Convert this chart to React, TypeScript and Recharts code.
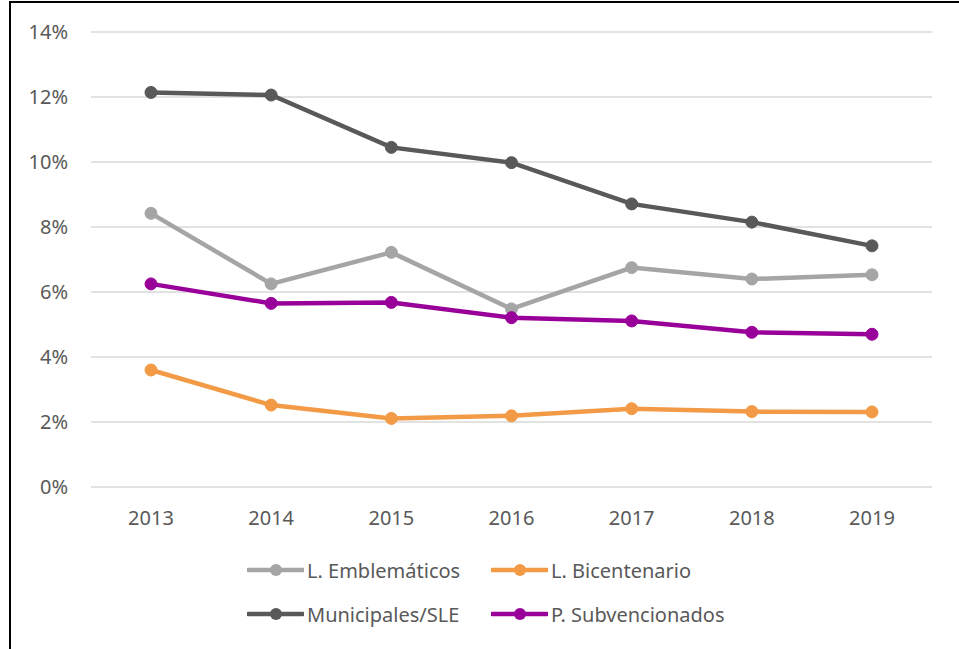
import React from "react";
import { LineChart, Line, XAxis, YAxis, CartesianGrid, Legend } from "recharts";

const years = ["2013", "2014", "2015", "2016", "2017", "2018", "2019"];
const emblematicos = [8.42, 6.25, 7.22, 5.48, 6.75, 6.4, 6.53];
const bicentenario = [3.6, 2.52, 2.11, 2.19, 2.41, 2.32, 2.31];
const municipales = [12.14, 12.06, 10.45, 9.98, 8.71, 8.15, 7.42];
const subvencionados = [6.25, 5.65, 5.68, 5.21, 5.11, 4.76, 4.7];
const yTicks = [0, 2, 4, 6, 8, 10, 12, 14];

const seriesNames = ["L. Emblemáticos", "L. Bicentenario", "Municipales/SLE", "P. Subvencionados"];
const seriesColors = ["#A5A5A5", "#F39A46", "#595959", "#990099"];
const seriesKeys = ["emb", "bic", "mun", "sub"];

const data = years.map((y, i) => ({
  year: y,
  emb: emblematicos[i],
  bic: bicentenario[i],
  mun: municipales[i],
  sub: subvencionados[i],
}));

const FONT = "'Noto Sans', sans-serif";
const TEXT = "#595959";

const LegendContent = (props: any) => {
  const payload = [...(props.payload || [])].sort(
    (a: any, b: any) => seriesNames.indexOf(a.value) - seriesNames.indexOf(b.value)
  );
  return (
    <div style={{ position: "relative", width: 959, height: 90 }}>
      {payload.map((p: any, i: number) => {
        const col = i % 2;
        const row = Math.floor(i / 2);
        return (
          <div
            key={p.value}
            style={{
              position: "absolute",
              left: col === 0 ? 247 : 491,
              top: row === 0 ? 9 : 53,
              height: 26,
              display: "flex",
              alignItems: "center",
              fontFamily: FONT,
              fontSize: 20,
              color: TEXT,
              whiteSpace: "nowrap",
            }}
          >
            <svg width={57} height={14} style={{ display: "block" }}>
              <line x1={1} y1={7} x2={56} y2={7} stroke={p.color} strokeWidth={4.5} strokeLinecap="round" />
              <circle cx={29} cy={7} r={6} fill={p.color} />
            </svg>
            <span style={{ marginLeft: 3 }}>{p.value}</span>
          </div>
        );
      })}
    </div>
  );
};

export default function App() {
  return (
    <div style={{ position: "absolute", left: 0, top: 0, width: 959, height: 649, background: "#fff" }}>
      <div
        style={{
          position: "absolute",
          left: 9,
          top: 1,
          width: 950,
          height: 648,
          borderLeft: "2px solid #000",
          borderTop: "2px solid #000",
          boxSizing: "border-box",
        }}
      />
      <LineChart
        width={959}
        height={649}
        data={data}
        margin={{ top: 32, right: 27, left: 0, bottom: 22 }}
        style={{ position: "absolute", left: 0, top: 0 }}
      >
        <CartesianGrid vertical={false} stroke="#D9D9D9" strokeWidth={1.5} />
        <XAxis
          dataKey="year"
          axisLine={false}
          tickLine={false}
          tickSize={0}
          tickMargin={24}
          height={50}
          padding={{ left: 60, right: 60 }}
          tick={{ fill: TEXT, fontSize: 20, fontFamily: FONT }}
        />
        <YAxis
          domain={[0, 14]}
          ticks={yTicks}
          interval={0}
          width={91}
          axisLine={false}
          tickLine={false}
          tickSize={0}
          tickMargin={23}
          tickFormatter={(v: number) => `${v}%`}
          tick={{ fill: TEXT, fontSize: 20, fontFamily: FONT }}
        />
        <Legend
          verticalAlign="bottom"
          height={90}
          content={<LegendContent />}
          wrapperStyle={{ position: "absolute", left: 0, top: 548, width: 959, height: 90 }}
        />
        {seriesKeys.map((k, i) => (
          <Line
            key={k}
            type="linear"
            dataKey={k}
            name={seriesNames[i]}
            stroke={seriesColors[i]}
            strokeWidth={4.5}
            dot={{ r: 6, fill: seriesColors[i], stroke: seriesColors[i], strokeWidth: 1 }}
            activeDot={false}
            isAnimationActive={false}
          />
        ))}
      </LineChart>
    </div>
  );
}
